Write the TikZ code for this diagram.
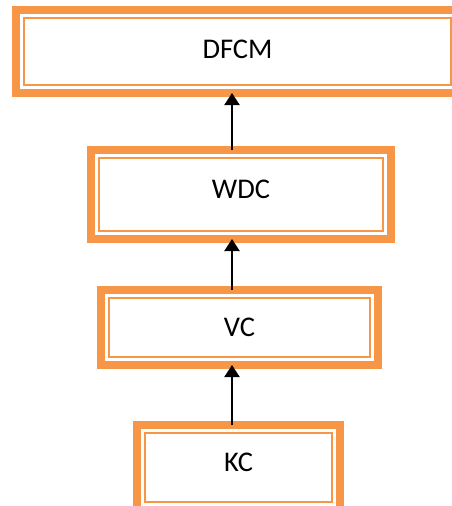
\documentclass[tikz,border=0pt]{standalone}
\usepackage{fontspec}
\setmainfont{Carlito}
\usetikzlibrary{arrows.meta}
\definecolor{naranja}{HTML}{F79646}
\tikzset{caja/.style={draw=naranja,line width=8pt,inner sep=0pt,outer sep=0pt,
    font=\fontsize{28.5}{34}\selectfont},
  borde/.style={draw=naranja,line width=2.5pt},
  flecha/.style={line width=2pt,-{Triangle[width=15pt,length=12pt]}}}

\begin{document}
\begin{tikzpicture}[x=1pt,y=-1pt]
            \useasboundingbox (0,0) rectangle (452,506);
            \node[caja,minimum width=443pt,minimum height=83pt,text depth=5pt] (dfcm) at (237.5,51.5) {DFCM}; % nivel 1
            \node[caja,minimum width=300pt,minimum height=89pt,text depth=11pt] (wdc) at (241,194.5) {WDC}; % nivel 2
            \node[caja,minimum width=277pt,minimum height=75pt] (vc) at (239.5,327.5) {VC}; % nivel 3
            \node[caja,minimum width=203pt,minimum height=85pt,text depth=11pt] (kc) at (238.5,467.5) {KC}; % nivel 4
            \foreach \c in {dfcm,wdc,vc,kc} \draw[borde] ([shift={(8,8)}]\c.north west) rectangle ([shift={(-8,-8)}]\c.south east);
            \coordinate (eje) at (232,0);
            \draw[flecha] (wdc.north -| eje) -- (dfcm.south -| eje);
            \draw[flecha] (vc.north -| eje) -- (wdc.south -| eje);
            \draw[flecha] (kc.north -| eje) -- (vc.south -| eje);
\end{tikzpicture}
\end{document}
